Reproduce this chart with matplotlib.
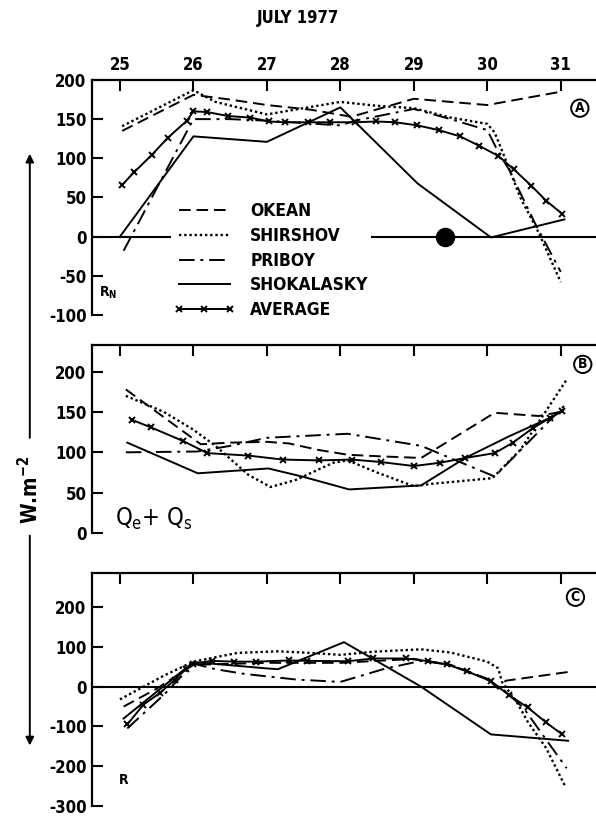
import matplotlib
matplotlib.use("Agg")
from matplotlib import pyplot as plt
from matplotlib.patches import FancyArrowPatch

plt.rcParams['font.family'] = ['DejaVu Sans']
plt.rcParams['font.stretch'] = 'condensed'
plt.rcParams['font.weight'] = 'bold'
plt.rcParams['axes.unicode_minus'] = False

days = [25, 26, 27, 28, 29, 30, 31]
names = ["OKEAN", "SHIRSHOV", "PRIBOY", "SHOKALASKY", "AVERAGE"]

# (A) net radiation R_N
a_okean_x = [25.03, 26.0, 26.5, 27.0, 27.6, 28.15, 29.0, 30.0, 31.0]
a_okean_y = [135, 181, 175, 168, 162, 153, 176, 168, 185]
a_shirshov_x = [25.03, 26.0, 26.3, 27.0, 27.5, 28.0, 28.5, 29.0, 29.5, 30.0, 30.1, 30.2, 30.45, 30.7, 31.0]
a_shirshov_y = [141, 187, 172, 156, 164, 172, 167, 164, 152, 144, 133, 110, 50, 5, -58]
a_priboy_x = [25.05, 26.0, 26.5, 27.0, 27.5, 28.0, 28.2, 29.0, 29.5, 30.0, 30.15, 30.3, 30.65, 31.0]
a_priboy_y = [-18, 150, 150, 148, 145, 142, 148, 163, 150, 136, 108, 85, 17, -45]
a_shoka_x = [25.0, 26.0, 27.0, 28.0, 29.05, 30.05, 31.05]
a_shoka_y = [0, 128, 121, 165, 68, -1, 22]
a_avg_x = [25.03, 25.19, 25.43, 25.65, 25.91, 26.0, 26.19, 26.47, 26.77, 27.03, 27.24, 27.56, 27.86,
           28.2, 28.49, 28.75, 29.05, 29.34, 29.63, 29.89, 30.15, 30.36, 30.6, 30.8, 31.02]
a_avg_y = [66, 82, 104, 126, 148, 160, 159, 154, 152, 147, 146, 146, 146,
           146, 147, 146, 142, 136, 128, 116, 103, 86, 65, 46, 29]
dot_day = [29.42]
dot_val = [0]

# (B) Qe + Qs
b_okean_x = [25.08, 26.1, 26.5, 27.0, 27.3, 27.7, 28.1, 28.55, 29.1, 30.1, 30.7, 31.05]
b_okean_y = [178, 110, 112, 113, 111, 103, 97, 95, 93, 149, 145, 151]
b_shirshov_x = [25.08, 25.6, 26.0, 26.3, 26.55, 26.75, 27.05, 27.4, 27.9, 28.1, 28.5, 29.0, 29.25, 30.07, 30.45, 31.08]
b_shirshov_y = [170, 150, 128, 108, 88, 72, 57, 66, 87, 90, 75, 58, 61, 68, 103, 190]
b_priboy_x = [25.08, 26.05, 26.5, 27.0, 28.1, 29.1, 30.1, 31.05]
b_priboy_y = [100, 101, 108, 118, 123, 108, 70, 158]
b_shoka_x = [25.1, 26.06, 27.02, 27.48, 28.12, 29.1, 29.7, 30.3, 30.86, 31.04]
b_shoka_y = [112, 74, 80, 70, 54, 59, 93, 120, 143, 153]
b_avg_x = [25.17, 25.42, 25.86, 26.19, 26.74, 27.22, 27.71, 28.16, 28.55, 29.0, 29.35, 29.7, 30.1, 30.35, 30.62, 30.86, 31.02]
b_avg_y = [140, 131, 114, 99, 96, 91, 90, 91, 88, 83, 87, 93, 99, 112, 130, 143, 151]

# (C) R
c_okean_x = [25.05, 25.5, 26.0, 27.0, 28.0, 28.5, 29.0, 29.5, 30.0, 30.15, 30.25, 31.1]
c_okean_y = [-50, -5, 55, 60, 60, 65, 70, 55, 20, -5, 15, 37]
c_shirshov_x = [25.0, 25.6, 26.0, 26.6, 27.15, 27.6, 28.0, 28.45, 29.1, 29.5, 30.0, 30.15, 30.2, 30.4, 30.55, 30.8, 31.07]
c_shirshov_y = [-32, 28, 63, 85, 89, 85, 80, 88, 94, 86, 63, 46, 12, -38, -88, -154, -254]
c_priboy_x = [25.1, 25.6, 26.0, 26.3, 26.7, 27.4, 28.0, 28.6, 29.1, 29.5, 30.0, 30.25, 30.5, 30.75, 31.08]
c_priboy_y = [-105, -20, 58, 44, 32, 18, 12, 45, 65, 55, 18, -12, -55, -120, -205]
c_shoka_x = [25.05, 26.0, 27.0, 27.15, 28.05, 29.1, 30.05, 31.1]
c_shoka_y = [-80, 62, 46, 44, 112, 0, -120, -136]
c_avg_x = [25.1, 25.32, 25.55, 25.75, 25.9, 26.0, 26.25, 26.55, 26.85, 27.3, 27.55, 28.1, 28.45, 28.9,
           29.2, 29.45, 29.72, 30.05, 30.3, 30.55, 30.8, 31.02]
c_avg_y = [-95, -45, -15, 18, 45, 58, 65, 63, 63, 66, 65, 64, 71, 71,
           64, 56, 39, 14, -22, -52, -90, -120]

styles = [dict(ls=(0, (6, 3)), lw=1.4),
          dict(ls=(0, (1, 1.2)), lw=1.7),
          dict(ls=(0, (8, 3, 1.5, 3)), lw=1.4),
          dict(ls='-', lw=1.4),
          dict(ls='-', lw=1.4, marker='x', ms=5, mew=1.4)]


def setup(ax, ylim, yticks, top_labels):
    ax.set_xlim(24.62, 31.48)
    ax.set_ylim(*ylim)
    ax.spines['right'].set_visible(False)
    ax.spines['bottom'].set_visible(False)
    ax.spines['top'].set_linewidth(1.6)
    ax.spines['left'].set_linewidth(1.6)
    ax.xaxis.set_ticks_position('top')
    ax.set_xticks(days)
    ax.set_xticklabels([str(d) for d in days] if top_labels else [])
    ax.set_yticks(yticks)
    ax.set_yticklabels([str(v) for v in yticks])
    ax.tick_params(axis='both', direction='in', length=8, width=1.5, labelsize=12, pad=4)
    ax.set_facecolor('none')


fig = plt.figure(figsize=(5.96, 8.16), dpi=100)
axA = fig.add_axes([0.1544, 0.614, 0.8456, 0.288])
axB = fig.add_axes([0.1544, 0.3468, 0.8456, 0.2304])
axC = fig.add_axes([0.1544, 0.0123, 0.8456, 0.2855])

setup(axA, (-100, 200), [200, 150, 100, 50, 0, -50, -100], True)
setup(axB, (0, 233), [200, 150, 100, 50, 0], False)
setup(axC, (-300, 286), [200, 100, 0, -100, -200, -300], False)

axA.axhline(0, color='black', lw=1.5, zorder=1)
axC.axhline(0, color='black', lw=1.5, zorder=1)

a_series = [(a_okean_x, a_okean_y), (a_shirshov_x, a_shirshov_y), (a_priboy_x, a_priboy_y),
            (a_shoka_x, a_shoka_y), (a_avg_x, a_avg_y)]
b_series = [(b_okean_x, b_okean_y), (b_shirshov_x, b_shirshov_y), (b_priboy_x, b_priboy_y),
            (b_shoka_x, b_shoka_y), (b_avg_x, b_avg_y)]
c_series = [(c_okean_x, c_okean_y), (c_shirshov_x, c_shirshov_y), (c_priboy_x, c_priboy_y),
            (c_shoka_x, c_shoka_y), (c_avg_x, c_avg_y)]

for ax, series in [(axA, a_series), (axB, b_series), (axC, c_series)]:
    for (xs, ys), name, st in zip(series, names, styles):
        ax.plot(xs, ys, color='black', label=name, **st)

axA.plot(dot_day, dot_val, 'o', ms=13, color='black', zorder=6)

leg = axA.legend(loc='upper left', bbox_to_anchor=(25.7, 47), bbox_transform=axA.transData,
                 frameon=True, facecolor='white', edgecolor='none', framealpha=1,
                 fontsize=12.5, handlelength=3.5, handletextpad=0.9, labelspacing=0.38,
                 borderpad=0.15, borderaxespad=0, numpoints=3)

circ = dict(boxstyle='circle,pad=0.12', fc='white', ec='black', lw=1.4)
axA.text(31.26, 164, "A", ha='center', va='center', fontsize=10, bbox=circ)
axB.text(31.3, 209, "B", ha='center', va='center', fontsize=10, bbox=circ)
axC.text(31.2, 225, "C", ha='center', va='center', fontsize=10, bbox=circ)

axA.text(24.72, -72, r"R$_\mathregular{N}$", fontsize=10, va='center')
axB.text(24.93, 18, r"Q$_\mathregular{e}$+ Q$_\mathregular{s}$", fontsize=17, va='center', fontweight='normal')
axC.text(24.98, -235, "R", fontsize=10, va='center')

fig.text(0.5, 0.978, "JULY 1977", ha='center', va='center', fontsize=12)
fig.text(0.05, 0.4, r"W.m$^\mathregular{-2}$", rotation=90, ha='center', va='center', fontsize=15)
fig.add_artist(FancyArrowPatch((0.05, 0.46), (0.05, 0.815), transform=fig.transFigure,
                               arrowstyle='-|>', mutation_scale=12, lw=1.4, color='black'))
fig.add_artist(FancyArrowPatch((0.05, 0.347), (0.05, 0.083), transform=fig.transFigure,
                               arrowstyle='-|>', mutation_scale=12, lw=1.4, color='black'))

fig.savefig("out.png", dpi=100)
